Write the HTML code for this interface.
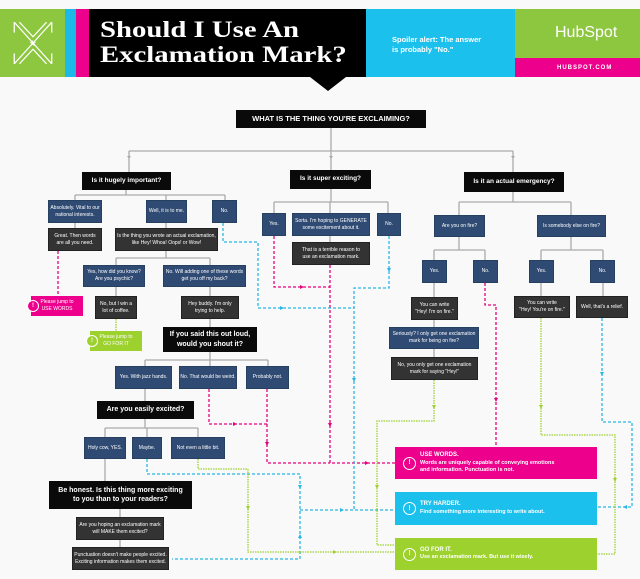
<!DOCTYPE html>
<html><head><meta charset="utf-8"><style>
*{margin:0;padding:0;box-sizing:border-box}
body{width:640px;height:579px;background:#f9f9f9;position:relative;overflow:hidden;font-family:"Liberation Sans Narrow","Liberation Sans",sans-serif}
.b{position:absolute;display:flex;align-items:center;justify-content:center;text-align:center;color:#fff;font-size:5px;line-height:1.35;background:#2f4a73;border:1px solid #26405f}
.d{background:#333;border-color:#222}
.k{background:#0a0a0a;border:none;font-family:"Liberation Sans",sans-serif;font-weight:bold}
.q{font-size:7.5px}
.big{font-size:7px;line-height:1.3}
.r{position:absolute;color:#fff;font-family:"Liberation Sans",sans-serif;font-weight:bold;font-size:6px;line-height:1.4;padding-left:25px;display:flex;flex-direction:column;justify-content:center}
.r .c{position:absolute;left:8px;top:50%;margin-top:-6.5px;width:13px;height:13px;border:1.3px solid #fff;border-radius:50%;font-size:7px;display:flex;align-items:center;justify-content:center}
.j{position:absolute;color:#fff;font-size:5px;line-height:1.4;text-align:center;display:flex;align-items:center;justify-content:center}
.j .c{position:absolute;left:-4px;top:50%;margin-top:-6px;width:12px;height:12px;border-radius:50%;background:inherit;border:1.5px solid #fff;font-size:6px;font-weight:bold;display:flex;align-items:center;justify-content:center}
</style></head><body>
<!-- header -->
<div style="position:absolute;left:0;top:9px;width:65px;height:68px;background:#8dc63f"></div>
<svg style="position:absolute;left:8px;top:18px" width="50" height="50" viewBox="0 0 42 48" fill="none" stroke="#fff" stroke-width="1.2"><path d="M3 4 L21 24 L39 4 M3 44 L21 24 L39 44 M3 4 L3 14 M39 4 L39 14 M3 44 L3 34 M39 44 L39 34 M8 4 L21 18 L34 4 M8 44 L21 30 L34 44"/><text x="17" y="27" fill="#fff" stroke="none" font-size="8">★</text></svg>
<div style="position:absolute;left:65px;top:9px;width:11px;height:68px;background:#1cb8e8"></div>
<div style="position:absolute;left:76px;top:9px;width:13px;height:68px;background:#ec008c"></div>
<div style="position:absolute;left:89px;top:9px;width:277px;height:68px;background:#000"></div>
<div style="position:absolute;left:310px;top:77px;width:0;height:0;border-left:18px solid transparent;border-right:18px solid transparent;border-top:14px solid #000"></div>
<div style="position:absolute;left:100px;top:17px;color:#fff;font-family:'Liberation Serif',serif;font-weight:bold;font-size:23px;line-height:25px;transform:scaleX(1.25);transform-origin:0 0;white-space:nowrap">Should I Use An<br>Exclamation Mark?</div>
<div style="position:absolute;left:366px;top:9px;width:149px;height:68px;background:#1cc0ec"></div>
<div style="position:absolute;left:392px;top:35px;color:#fff;font-family:'Liberation Sans',sans-serif;font-weight:bold;font-size:7.5px;line-height:10px">Spoiler alert: The answer<br>is probably "No."</div>
<div style="position:absolute;left:515px;top:9px;width:125px;height:49px;background:#8dc63f"></div>
<div style="position:absolute;left:555px;top:24px;color:#fff;font-family:'Liberation Sans',sans-serif;font-size:16px">HubSpot</div>
<div style="position:absolute;left:515px;top:58px;width:125px;height:19px;background:#ec008c;color:#fff;font-family:'Liberation Sans',sans-serif;font-weight:bold;font-size:6px;letter-spacing:1px;padding:7px 0 0 42px">HUBSPOT.COM</div>

<svg style="position:absolute;left:0;top:0" width="640" height="579" fill="none">
<g stroke="#aaa" stroke-width="1.3">
<path d="M331 128V151 M129 151H513 M129 151V172 M331 151V170 M513 151V172"/>
<path d="M126 190V195 M75 195H225 M75 195V200 M166 195V200 M225 195V200 M75 223V228 M166 223V228 M166 251V258 M116 258H210 M116 258V265 M210 258V265 M116 287V296 M210 287V296 M210 319V327"/>
<path d="M210 352V360 M145 360H268 M145 360V366 M210 360V366 M268 360V366 M145 389V401 M145 419V428 M105 428H198 M105 428V437 M147 428V437 M198 428V437 M105 459V481 M120 509V517 M120 540V547"/>
<path d="M331 189V202 M274 202H388 M274 202V213 M330 202V213 M388 202V213 M330 236V242"/>
<path d="M513 192V202 M459 202H571 M459 202V215 M571 202V215 M459 237V250 M434 250H485 M434 250V260 M485 250V260 M434 283V297 M434 320V327 M434 349V357 M571 237V250 M541 250H603 M541 250V260 M603 250V260 M541 283V296 M603 283V296"/>
</g>
<g fill="#aaa"><path d="M127 156l2 3 2-3z M329 156l2 3 2-3z M511 156l2 3 2-3z"/></g>
<g stroke="#e6007e" stroke-width="1.3" stroke-dasharray="3 2">
<path d="M58 251V296 M274 236V287H330 M330 265V463H395 M209 389V424H267 M267 389V463H330 M485 283V305H496V447"/>
</g>
<g stroke="#29b6e6" stroke-width="1.3" stroke-dasharray="3 2">
<path d="M223 223V242H258V308H354 M389 236V288H354V510 M147 459V474H300V559H172 M300 510H395 M602 318V422H632V507H597"/>
</g>
<g stroke="#9dd12e" stroke-width="1.3" stroke-dasharray="1.5 1">
<path d="M116 319V331 M198 459V469H248V552H395 M434 380V421H377V545H395 M541 318V435H615V554H597"/>
</g>
<g fill="#e6007e"><path d="M300 285l4 2-4 2z M365 461l4 2-4 2z M233 422l4 2-4 2z M265 442l2 4 2-4z M328 423l2 4 2-4z M494 398l2 4 2-4z"/></g>
<g fill="#29b6e6"><path d="M280 306l4 2-4 2z M387 268l2 4 2-4z M352 378l2 4 2-4z M340 508l4 2-4 2z M298 485l2 4 2-4z M298 538l2 -4 2 4z M627 505l-4 2 4 2z M600 372l2 4 2-4z"/></g>
<g fill="#9dd12e"><path d="M333 550l4 2-4 2z M246 506l2 4 2-4z M432 405l2 4 2-4z M375 485l2 4 2-4z M539 405l2 4 2-4z M613 478l2 4 2-4z"/></g>
</svg>

<div class="b k q" style="left:236px;top:110px;width:190px;height:18px">WHAT IS THE THING YOU'RE EXCLAIMING?</div>
<div class="b k q" style="left:82px;top:172px;width:89px;height:18px;font-size:6.5px">Is it hugely important?</div>
<div class="b k q" style="left:290px;top:170px;width:81px;height:19px;font-size:6.5px">Is it super exciting?</div>
<div class="b k q" style="left:464px;top:172px;width:100px;height:20px;font-size:6.5px">Is it an actual emergency?</div>

<div class="b" style="left:48px;top:200px;width:54px;height:23px">Absolutely. Vital to our national interests.</div>
<div class="b" style="left:146px;top:200px;width:41px;height:23px">Well, it is to me.</div>
<div class="b" style="left:212px;top:200px;width:25px;height:23px">No.</div>
<div class="b d" style="left:48px;top:228px;width:54px;height:23px">Great. Then words<br>are all you need.</div>
<div class="b d" style="left:115px;top:228px;width:103px;height:23px">Is the thing you wrote an actual exclamation,<br>like Hey! Whoa! Oops! or Wow!</div>
<div class="b" style="left:83px;top:265px;width:62px;height:22px">Yes, how did you know?<br>Are you psychic?</div>
<div class="b" style="left:163px;top:265px;width:83px;height:22px">No. Will adding one of these words<br>get you off my back?</div>
<div class="b d" style="left:95px;top:296px;width:42px;height:23px">No, but I win a<br>lot of coffee.</div>
<div class="b d" style="left:181px;top:296px;width:58px;height:23px">Hey buddy. I'm only<br>trying to help.</div>
<div class="j" style="left:31px;top:296px;width:52px;height:20px;background:#ec008c"><span class="c">!</span>Please jump to<br>USE WORDS</div>
<div class="j" style="left:90px;top:331px;width:52px;height:20px;background:#9dd12e"><span class="c">!</span>Please jump to<br>GO FOR IT</div>
<div class="b k big" style="left:163px;top:327px;width:94px;height:25px">If you said this out loud,<br>would you shout it?</div>
<div class="b" style="left:115px;top:366px;width:57px;height:23px">Yes. With jazz hands.</div>
<div class="b" style="left:179px;top:366px;width:58px;height:23px">No. That would be weird.</div>
<div class="b" style="left:246px;top:366px;width:43px;height:23px">Probably not.</div>
<div class="b k big" style="left:97px;top:401px;width:97px;height:18px">Are you easily excited?</div>
<div class="b" style="left:84px;top:437px;width:42px;height:22px">Holy cow, YES.</div>
<div class="b" style="left:132px;top:437px;width:30px;height:22px">Maybe.</div>
<div class="b" style="left:171px;top:437px;width:54px;height:22px">Not even a little bit.</div>
<div class="b k big" style="left:49px;top:481px;width:143px;height:28px">Be honest. Is this thing more exciting<br>to you than to your readers?</div>
<div class="b d" style="left:76px;top:517px;width:88px;height:23px">Are you hoping an exclamation mark<br>will MAKE them excited?</div>
<div class="b d" style="left:72px;top:547px;width:97px;height:23px">Punctuation doesn't make people excited.<br>Exciting information makes them excited.</div>

<div class="b" style="left:262px;top:213px;width:24px;height:23px">Yes.</div>
<div class="b" style="left:292px;top:213px;width:78px;height:23px">Sorta. I'm hoping to GENERATE<br>some excitement about it.</div>
<div class="b" style="left:377px;top:213px;width:24px;height:23px">No.</div>
<div class="b d" style="left:292px;top:242px;width:78px;height:23px">That is a terrible reason to<br>use an exclamation mark.</div>

<div class="b" style="left:434px;top:215px;width:51px;height:22px">Are you on fire?</div>
<div class="b" style="left:537px;top:215px;width:69px;height:22px">Is somebody else on fire?</div>
<div class="b" style="left:422px;top:260px;width:25px;height:23px">Yes.</div>
<div class="b" style="left:473px;top:260px;width:25px;height:23px">No.</div>
<div class="b" style="left:529px;top:260px;width:25px;height:23px">Yes.</div>
<div class="b" style="left:590px;top:260px;width:25px;height:23px">No.</div>
<div class="b d" style="left:411px;top:297px;width:47px;height:23px">You can write<br>"Hey! I'm on fire."</div>
<div class="b" style="left:389px;top:327px;width:90px;height:22px">Seriously? I only get one exclamation<br>mark for being on fire?</div>
<div class="b d" style="left:391px;top:357px;width:87px;height:23px">No, you only get one exclamation<br>mark for saying "Hey!"</div>
<div class="b d" style="left:514px;top:296px;width:56px;height:22px">You can write<br>"Hey! You're on fire."</div>
<div class="b d" style="left:576px;top:296px;width:52px;height:22px">Well, that's a relief.</div>

<div class="r" style="left:395px;top:447px;width:202px;height:32px;background:#ec008c"><span class="c">!</span>USE WORDS.<span style="font-size:5.5px">Words are uniquely capable of conveying emotions<br>and information. Punctuation is not.</span></div>
<div class="r" style="left:395px;top:492px;width:202px;height:33px;background:#1cc0ec"><span class="c">!</span>TRY HARDER.<span style="font-size:5.5px">Find something more interesting to write about.</span></div>
<div class="r" style="left:395px;top:538px;width:202px;height:32px;background:#9dd12e"><span class="c">!</span>GO FOR IT.<span style="font-size:5.5px">Use an exclamation mark. But use it wisely.</span></div>
</body></html>
